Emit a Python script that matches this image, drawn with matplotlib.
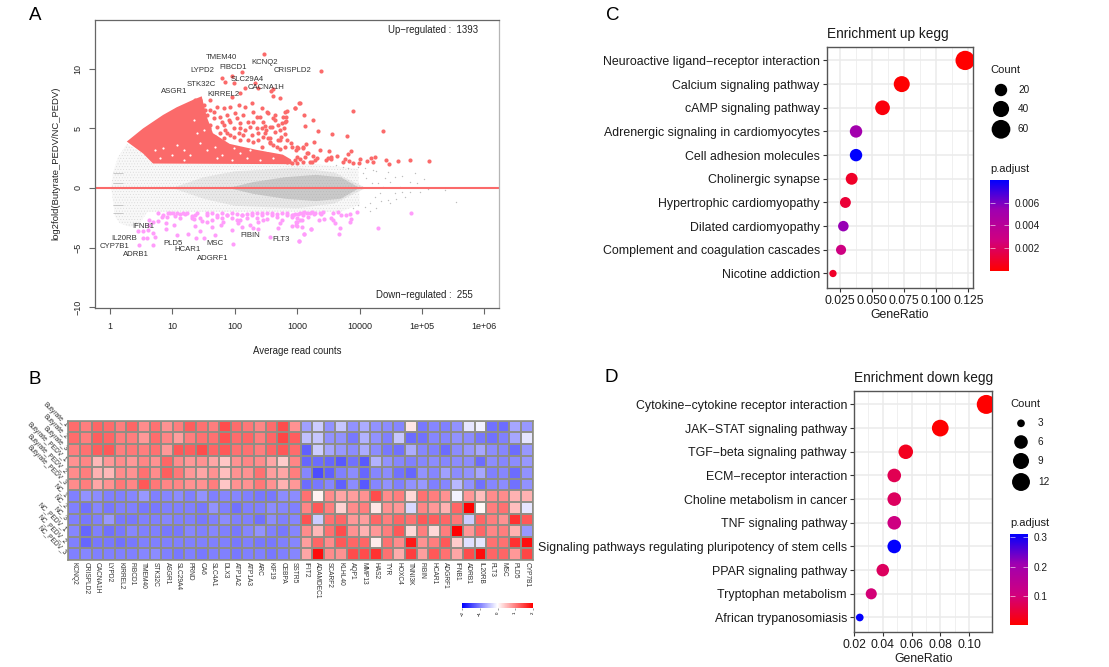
import numpy as np
import matplotlib
matplotlib.use("Agg")
import matplotlib.pyplot as plt
from matplotlib.cm import ScalarMappable
from matplotlib.colors import LinearSegmentedColormap, Normalize

plt.rcParams['font.family'] = ['Liberation Sans', 'DejaVu Sans']
plt.rcParams['hatch.linewidth'] = 0.3

W, H = 1109, 667

# Panel A: log10(average read counts) and log2 fold change
up_logx = [2.468, 2.11, 1.79, 1.84, 1.95, 1.98, 2.16, 2.32, 2.38, 2.62, 2.58, 2.62, 2.72, 3.39, 1.95, 2.08, 2.27,
           3.04, 2.96, 3.03, 2.96, 3.89, 2.83, 3.11, 3.25, 3.13, 3.33, 3.56, 3.80, 4.38, 2.53, 2.64, 2.64, 2.77,
           2.82, 2.82, 2.76, 2.79, 2.59, 2.48, 2.50, 2.74, 2.80, 2.56, 2.46, 2.70, 2.90, 3.27, 3.14, 2.56, 2.80,
           3.02, 3.10, 2.72, 3.37, 2.98, 3.51, 3.64, 3.86, 3.82, 3.77, 3.74, 3.83, 3.90, 3.99, 4.01, 4.12, 4.18,
           4.24, 4.21, 4.43, 4.48, 4.62, 4.81, 5.11, 3.50, 3.54, 3.47, 3.55, 2.99, 3.04, 2.96, 3.10, 3.00, 2.92,
           2.83, 3.21, 3.29, 3.32, 3.26, 3.17, 3.13, 3.23, 1.71, 1.82, 1.92, 2.06, 2.16, 1.60, 2.30, 2.43, 2.51,
           1.76, 1.87, 2.00, 2.14, 2.35, 1.66, 2.62, 2.80, 1.92, 2.08, 2.22, 2.46, 1.82, 1.98, 2.16, 2.35, 2.56,
           1.71, 2.06, 2.27, 2.48, 2.64, 1.92, 2.22, 2.38, 2.56, 2.72, 1.82, 1.60, 1.50, 1.55,
           1.68, 1.76, 1.87, 1.98, 2.08, 2.14, 2.30, 2.38, 2.43, 2.54, 2.62, 2.67, 2.83, 2.91, 2.99, 3.10, 3.15,
           1.60, 1.52, 1.44, 1.58, 1.79, 1.90, 1.66, 1.52, 1.42, 1.36, 1.44, 2.03, 2.30, 2.41, 2.70, 2.80, 2.24,
           2.08, 2.43, 2.72, 1.84]
up_lfc = [11.26, 9.77, 9.22, 8.93, 9.41, 8.80, 8.38, 8.80, 8.38, 8.29, 8.18, 7.73, 7.54, 9.80, 7.62, 7.96, 7.17,
          7.17, 6.70, 7.12, 6.70, 6.50, 6.47, 6.13, 5.71, 5.24, 4.76, 4.51, 4.34, 4.76, 6.33, 6.13, 5.71, 5.99,
          5.94, 5.66, 5.43, 5.02, 5.15, 5.21, 4.87, 4.31, 4.51, 4.18, 4.31, 4.03, 3.81, 3.89, 3.67, 3.76, 3.47,
          3.39, 3.33, 3.25, 3.19, 3.19, 3.11, 2.71, 3.08, 2.83, 2.46, 2.18, 2.27, 2.08, 2.13, 2.41, 2.27, 2.49,
          2.63, 2.16, 2.38, 2.04, 2.27, 2.38, 2.27, 2.50, 2.41, 2.35, 2.63, 2.58, 2.41, 2.35, 2.21, 2.13, 2.08,
          2.21, 2.21, 2.35, 2.50, 2.69, 2.92, 2.63, 2.16, 6.83, 6.70, 6.83, 6.97, 6.83, 6.55, 6.41, 6.70, 6.41,
          5.99, 6.13, 6.27, 6.13, 5.99, 5.85, 5.85, 6.41, 5.57, 5.43, 5.57, 5.57, 5.29, 5.02, 4.87, 5.02, 5.15,
          5.15, 4.60, 4.45, 4.60, 4.73, 4.45, 4.03, 4.03, 3.89, 4.03, 4.18, 7.40, 6.97, 6.13,
          4.31, 4.59, 4.59, 4.31, 4.03, 4.45, 3.89, 4.59, 3.47, 4.17, 3.61, 3.47, 4.03, 3.47, 3.47, 3.47, 2.91,
          5.29, 5.43, 5.71, 5.01, 5.57, 5.71, 6.41, 6.55, 6.97, 7.40, 7.40, 5.85, 5.57, 5.99, 5.29, 5.57, 5.15,
          5.01, 5.01, 4.87, 4.87]

# outline of the area where up-regulated points merge into one block, and the small gaps left inside it
up_block_logx = [0.27, 0.53, 0.85, 1.07, 1.33, 1.47, 1.55, 1.65, 1.92, 2.35, 2.77, 2.90, 2.93, 0.69, 0.53]
up_block_lfc = [3.9, 5.0, 6.13, 6.78, 7.4, 7.7, 6.0, 4.6, 3.7, 3.2, 2.8, 2.4, 2.0, 2.05, 2.9]
gap_logx = [0.72, 0.85, 1.07, 1.18, 1.28, 1.44, 1.55, 1.68, 1.79, 1.98, 2.08, 1.95, 2.24, 2.35, 2.19, 2.51, 2.62,
            2.40, 1.71, 0.99, 0.80, 1.18, 1.39, 1.50, 1.34]
gap_lfc = [3.19, 3.33, 3.61, 3.19, 2.77, 3.75, 3.19, 3.47, 2.77, 3.33, 2.91, 2.35, 3.19, 3.61, 2.49, 3.19, 2.49,
           2.35, 2.49, 2.77, 2.49, 2.35, 4.59, 4.87, 5.71]

down_logx = [0.454, 0.534, 0.614, 0.63, 0.63, 0.694, 0.775, 0.828, 0.908, 0.935, 1.015, 1.068, 1.175, 1.122, 1.229,
             1.309, 1.389, 1.346, 1.549, 1.469, 1.629, 1.709, 1.79, 1.87, 1.95, 2.03, 2.11, 2.19, 2.27, 2.35, 2.43,
             2.51, 2.59, 2.67, 2.75, 2.83, 2.94, 3.02, 3.10, 3.21, 3.29, 3.37, 0.694, 0.721, 0.534, 0.588, 0.47,
             0.694, 0.892, 0.892, 1.026, 1.079, 1.255, 1.373, 1.512, 1.683, 1.442, 1.362, 1.549, 1.629, 1.779, 1.816,
             1.95, 1.976, 2.057, 2.083, 2.11, 2.244, 2.377, 2.377, 2.297, 2.457, 2.564, 2.698, 2.724, 2.991, 3.072,
             2.981, 3.109, 3.216, 3.029, 2.91, 2.96, 3.04, 3.11, 3.16, 3.23, 3.27, 3.18, 3.09, 2.98, 3.05, 2.91,
             2.99, 3.08, 3.22, 3.11, 3.03, 3.35, 3.43, 3.42, 3.39, 3.54, 3.57, 3.61, 3.57, 3.66, 3.70, 3.78, 3.85,
             3.86, 3.85, 3.96, 3.69, 3.67, 4.30, 4.82, 0.775, 0.855, 0.96, 1.04, 1.12, 1.20, 1.31, 1.36, 1.44, 1.55,
             1.63, 1.71, 1.79, 1.87, 1.95, 2.03, 2.11, 2.19, 2.27, 2.35, 2.43, 2.51, 2.59, 2.67, 2.75, 2.83, 2.91,
             2.99]
down_lfc = [-3.61, -3.61, -3.53, -3.11, -2.69, -2.83, -2.77, -2.41, -2.41, -2.13, -2.07, -2.13, -2.07, -2.49, -2.13,
            -2.35, -2.13, -2.63, -2.07, -2.75, -2.07, -2.41, -2.13, -2.27, -2.13, -2.21, -2.27, -2.21, -2.13, -2.07,
            -2.07, -2.13, -2.13, -2.21, -2.13, -2.13, -2.27, -2.18, -2.07, -2.07, -2.07, -2.13, -3.81, -4.09, -4.23,
            -4.23, -4.82, -4.79, -3.47, -2.97, -3.11, -3.95, -3.87, -4.17, -4.17, -3.95, -3.59, -3.19, -2.83, -3.25,
            -3.11, -2.83, -3.53, -4.71, -2.97, -2.69, -3.25, -3.11, -2.83, -3.47, -3.39, -2.69, -4.09, -3.39, -2.97,
            -2.83, -2.69, -3.11, -3.87, -3.45, -4.45, -2.27, -2.18, -2.07, -2.02, -2.07, -2.02, -2.18, -2.41, -2.27,
            -2.89, -2.69, -3.17, -3.17, -3.25, -3.42, -3.89, -4.43, -2.69, -2.63, -1.99, -2.21, -2.55, -2.69, -2.97,
            -2.13, -2.02, -2.24, -2.24, -2.16, -2.63, -2.89, -1.99, -3.33, -3.89, -3.36, -2.13, -2.13, -2.27, -2.13,
            -2.33, -2.21, -2.21, -2.55, -2.27, -2.55, -2.27, -2.69, -2.27, -2.55, -2.27, -2.55, -2.69, -2.27, -2.55,
            -2.27, -2.55, -2.27, -2.60, -2.27, -2.41, -2.69, -2.27, -2.41, -2.55]

# outlines of the grey cloud: sparse, medium and dense zones
cloud_logx = [0.02, 0.05, 0.13, 0.27, 0.53, 0.69, 3.3, 3.98, 4.0, 3.69, 0.6, 0.45, 0.32, 0.16, 0.08]
cloud_lfc = [0.0, 1.3, 2.6, 3.7, 2.9, 2.0, 2.0, 1.6, -1.4, -2.0, -2.0, -3.2, -3.25, -2.97, -2.41]
mid_logx = [1.0, 1.5, 2.0, 3.0, 3.6, 4.1, 3.6, 3.0, 2.0, 1.5]
mid_lfc = [0.0, 0.9, 1.4, 1.7, 1.3, 0.0, -1.3, -1.7, -1.5, -0.9]
core_logx = [1.9, 2.3, 2.8, 3.3, 3.7, 4.0, 3.7, 3.3, 2.8, 2.3]
core_lfc = [0.0, 0.5, 0.9, 1.1, 0.9, 0.0, -0.9, -1.1, -0.9, -0.5]
tail_logx = [4.09, 4.27, 4.46, 4.57, 4.68, 4.89, 5.03, 4.81, 4.92, 4.65, 5.37, 5.10, 4.97, 4.81, 4.57, 4.68, 4.73,
             4.46, 4.59, 4.35, 5.54, 4.49, 4.17, 4.09, 4.27, 4.38, 4.49, 4.30, 4.22, 4.11, 4.40, 4.33, 4.25, 4.17,
             3.98, 3.90, 3.98, 3.82, 3.74, 3.63, 4.06, 4.20]
tail_lfc = [1.65, 1.46, 1.37, 0.90, 1.01, 1.23, 0.76, 0.53, 0.39, 0.11, -0.17, -0.11, -0.31, -0.31, -0.45, -0.31, -0.78,
            -1.01, -0.95, -1.09, -1.18, -1.29, -1.90, -1.57, -1.71, 0.11, 0.53, 0.39, 1.51, 0.81, 0.81, -0.45, -0.73,
            -1.29, -1.43, -1.71, 1.79, 1.65, 1.79, 1.93, 1.23, 0.39]
streak_lfc = [1.26, 0.4, -1.43, -2.1]

gene_names = ["TMEM40", "KCNQ2", "FIBCD1", "LYPD2", "CRISPLD2", "SLC29A4", "STK32C", "CACNA1H", "ASGR1", "KIRREL2",
              "IFNB1", "IL20RB", "CYP7B1", "ADRB1", "PLD5", "HCAR1", "MSC", "ADGRF1", "FIBIN", "FLT3"]
gene_x = [61.7, 297, 92.5, 30.1, 834, 161, 29.5, 313, 10.5, 65.4,
          3.42, 1.66, 1.2, 2.58, 10.3, 17.3, 47.6, 43.6, 177, 544]
gene_y = [10.95, 10.56, 10.08, 9.88, 9.88, 9.1, 8.66, 8.4, 8.13, 7.82,
          -3.25, -4.23, -4.9, -5.57, -4.7, -5.2, -4.65, -5.9, -4.0, -4.35]

# Panel B
heat_rows = ["Butyrate_1", "Butyrate_2", "Butyrate_3", "Butyrate_PEDV_1", "Butyrate_PEDV_2", "Butyrate_PEDV_3",
             "NC_1", "NC_2", "NC_3", "NC_PEDV_1", "NC_PEDV_2", "NC_PEDV_3"]
heat_cols = ["KCNQ2", "CRISPLD2", "CACNA1H", "LYPD2", "KIRREL2", "FIBCD1", "TMEM40", "STK32C", "ASGR1", "SLC29A4",
             "PRND", "CA6", "SLC4A1", "DLX3", "ATP1A2", "ATP1A3", "ARC", "KIF19", "CEBPA", "SSTR5",
             "IFIT2", "ADAMDEC1", "SCARF2", "KLHL40", "AQP1", "MMP13", "HAS2", "TYR", "HOXC4", "TNNI3K",
             "FIBIN", "HCAR1", "ADGRF1", "IFNB1", "ADRB1", "IL20RB", "FLT3", "MSC", "PLD5", "CYP7B1"]
heat_values = [
    [1.15, 1.0, 1.2, 1.15, 1.0, 1.2, .9, 1.1, .85, 1.0, 1.25, 1.1, 1.0, 1.4, 1.15, 1.05, .95, 1.15, 1.4, .85,
     -.75, -.4, -.85, -.45, -.85, -.65, -.85, -.9, -.95, .2, -1.05, -.95, -1, -.85, -.2, -.1, -1.1, -1.15, -.7, -.8],
    [1.15, 1.0, 1.25, 1.2, 1.0, 1.0, .8, 1.15, .95, .75, 1.0, 1.1, 1.1, 1.35, 1.15, 1.2, 1.0, 1.2, 1.45, 1.25,
     -.5, -.45, -.85, -.85, -1.05, -.6, -.85, -1.0, -.45, -1.15, -1.1, -.95, -.95, -.85, -.9, -1.05, -1.1, -1.0, -.7, -.2],
    [1.0, 1.1, 1.25, 1.3, 1.0, 1.05, 1.0, 1.1, .8, 1.3, 1.25, 1.4, 1.2, 1.3, 1.1, 1.1, 1.0, 1.2, 1.3, 1.15,
     -1.25, -.4, -.7, -.8, -.9, -.65, -.9, -1.05, -1.1, -.65, -.95, -1, -1.15, -.9, -.8, -.7, -.9, -.95, -1.15, -.8],
    [.85, .95, .55, .8, .9, .8, .95, .85, 1.2, .9, .8, .85, .7, .45, .85, .95, .9, .7, .4, .95,
     -1.2, -1.15, -1.2, -1.3, -1.1, -1.3, -.6, -.85, -.95, -1, -.95, -.9, -.95, -.9, -.9, -1.15, -.9, -.95, -.9, -.8],
    [.9, 1.0, .6, .55, .9, .85, 1.1, .9, 1.25, 1.05, .8, .7, .85, .5, .85, .85, 1.1, .75, .7, 1.0,
     -.95, -1.4, -1.25, -1.0, -.9, -1.2, -.95, -.9, -1.1, -1.2, -.85, -.95, -.75, -.9, -.85, -.7, -1, -.95, -1.15, -.85],
    [.9, 1.0, .7, .85, 1.05, .95, 1.3, 1.05, .95, .95, .85, .85, 1.0, .45, .85, .85, 1.05, .85, .6, .8,
     -1.15, -1.05, -.95, -1.25, -.9, -1.3, -.95, -.85, -1.0, -.85, -.8, -1.0, -.95, -.55, -.85, -1.1, -.95, -.9, -1.1, -.85],
    [-1.0, -.85, -.9, -1, -1, -.95, -.8, -1, -.95, -.9, -1, -.85, -1, -.95, -.95, -1, -1.05, -1.05, -.9, -.9,
     1.1, .1, .9, .7, .75, .85, 1.4, .9, 1.0, .3, 1.1, 1.0, .85, -.1, .8, .5, .9, .9, .6, .6],
    [-1.0, -1.1, -.95, -1.05, -1, -1, -1.05, -1.05, -1, -1, -1, -1.05, -.85, -1, -1.1, -1, -1, -.9, -.95, -1,
     .95, 1.3, 1.0, .35, .9, 1, .2, .85, .8, -.3, .95, .8, .6, 1.2, 2, .05, 1.0, 1.1, .5, -.2],
    [-1, -1.05, -1, -.8, -1.05, -1.05, -1, -1, -.95, -1, -1, -1.05, -1, -.9, -1, -1, -1.1, -.9, -1, -.95,
     1.35, -.4, 1.1, 1.2, .8, .75, 1.2, 1.0, 1.2, 1.1, 1.3, 1.25, 1.2, 1.05, -.4, 1.2, 1.0, .85, 1.6, 1.3],
    [-.95, -1.2, -1.0, -1.1, -1.05, -.95, -1, -1, -1.05, -1.05, -.95, -1, -.95, -1, -1.05, -.95, -.85, -1, -1.05, -.95,
     .9, .55, 1.1, 1.4, .85, .6, .8, 1.0, 1.3, .3, 1.0, .3, 1.0, 2, .8, 1.2, .95, 1.0, .6, -.8],
    [-1, -1.2, -1.05, -1.05, -1.1, -1.05, -1, -1, -1, -1, -1, -1, -1, -1, -1.05, -1, -1.05, -1.05, -1, -.95,
     .75, 1.2, .9, 1.3, 1.2, 1.2, .15, 1.1, .9, 1.8, .85, 1.0, 1.3, .4, -.25, -.2, 1.1, 1.1, 1.6, 1.9],
    [-1, -.95, -1, -1, -1, -1, -.95, -.9, -1, -1.05, -1, -1.05, -1, -1, -1.05, -1, -1, -1.05, -1, -.95,
     .7, 1.9, .9, .85, 1.4, 1.4, 1.6, 1.1, .65, 1.5, .75, 1.3, 1.1, .7, 1.4, 1.9, 1.2, 1.2, .8, 1.45],
]

# Panel C
up_terms = ["Neuroactive ligand\u2212receptor interaction", "Calcium signaling pathway", "cAMP signaling pathway",
            "Adrenergic signaling in cardiomyocytes", "Cell adhesion molecules", "Cholinergic synapse",
            "Hypertrophic cardiomyopathy", "Dilated cardiomyopathy", "Complement and coagulation cascades",
            "Nicotine addiction"]
up_ratio = [0.1225, 0.073, 0.058, 0.0373, 0.0373, 0.0339, 0.029, 0.0274, 0.0256, 0.0193]
up_count = [65, 39, 31, 20, 20, 18, 15, 14, 13, 10]
up_padj = [0.00005, 0.0001, 0.0003, 0.0052, 0.008, 0.0009, 0.0012, 0.0055, 0.0028, 0.0009]

# Panel D
down_terms = ["Cytokine\u2212cytokine receptor interaction", "JAK\u2212STAT signaling pathway",
              "TGF\u2212beta signaling pathway", "ECM\u2212receptor interaction", "Choline metabolism in cancer",
              "TNF signaling pathway", "Signaling pathways regulating pluripotency of stem cells",
              "PPAR signaling pathway", "Tryptophan metabolism", "African trypanosomiasis"]
down_ratio = [0.112, 0.08, 0.056, 0.048, 0.048, 0.048, 0.048, 0.04, 0.032, 0.024]
down_count = [14, 10, 7, 6, 6, 6, 6, 5, 4, 3]
down_padj = [0.004, 0.005, 0.03, 0.07, 0.08, 0.11, 0.31, 0.08, 0.1, 0.31]

count_rg = LinearSegmentedColormap.from_list("rb", ["#ff0000", "#d0007f", "#a000b0", "#0000ff"])
heat_cmap = LinearSegmentedColormap.from_list("bwr2", ["#0000ff", "#ffffff", "#ff0000"])
RED, PINK = "#fb6a6a", "#ff9dfb"


def px_axes(fig, left, top, right, bottom, **kw):
    return fig.add_axes([left / W, 1 - bottom / H, (right - left) / W, (bottom - top) / H], **kw)


def dot_area(count, low, high, d_min, d_max):
    # same size rule as ggplot scale_size, answer in points^2
    t = (np.asarray(count, dtype=float) - low) / (high - low)
    return ((d_min + np.sqrt(t) * (d_max - d_min)) * 0.72) ** 2


def ma_panel(fig):
    ax = px_axes(fig, 95, 19.5, 499, 308)
    grey_ink = "#666666"
    ax.fill(10 ** np.array(cloud_logx), cloud_lfc, facecolor="#f8f8f8", edgecolor="#d6d6d6", hatch="......", lw=0)
    ax.fill(10 ** np.array(mid_logx), mid_lfc, facecolor="#e8e8e8", edgecolor="#cccccc", hatch="......", lw=0)
    ax.fill(10 ** np.array(core_logx), core_lfc, facecolor="#c9c9c9", edgecolor="#b8b8b8", hatch="......", lw=0)
    ax.scatter(10 ** np.array(tail_logx), tail_lfc, s=1.0, color="#bdbdbd", lw=0)
    ax.hlines(streak_lfc, 1.13, 1.6, color="#c0c0c0", lw=0.6)
    ax.fill(10 ** np.array(up_block_logx), up_block_lfc, color=RED, lw=0)
    ax.scatter(10 ** np.array(gap_logx), gap_lfc, s=2.5, color="white", lw=0)
    ax.scatter(10 ** np.array(up_logx), up_lfc, s=9, color=RED, lw=0)
    ax.scatter(10 ** np.array(down_logx), down_lfc, s=9, color=PINK, lw=0)
    ax.axhline(0, color=RED, lw=1.5)
    ax.set_xscale("log")
    ax.set_xlim(10 ** -0.24, 10 ** 6.235)
    ax.set_ylim(-10.08, 14.15)
    ax.set_xticks([1, 10, 100, 1000, 10000, 1e5, 1e6])
    ax.set_xticklabels(["1", "10", "100", "1000", "10000", "1e+05", "1e+06"])
    ax.minorticks_off()
    ax.set_yticks([-10, -5, 0, 5, 10])
    ax.tick_params(colors="#222222", labelsize=6.5, length=4.3, width=0.8, color=grey_ink, pad=4.5)
    ax.tick_params(axis="x", pad=6)
    plt.setp(ax.get_yticklabels(), rotation=90, va="center")
    for name, spine in ax.spines.items():
        spine.set_color("#b5b5b5" if name == "right" else grey_ink)
        spine.set_linewidth(0.9)
    ax.set_xlabel("Average read counts", fontsize=6.9, color="#222222", labelpad=10.5)
    ax.set_ylabel("log2fold(Butyrate_PEDV/NC_PEDV)", fontsize=6.8, color="#222222", labelpad=9.5)
    for name, x, y in zip(gene_names, gene_x, gene_y):
        ax.text(x, y, name, fontsize=5.6, color="#333333", ha="center", va="center")
    ax.text(1.5e5, 13.3, "Up\u2212regulated :  1393", fontsize=6.9, color="#222222", ha="center", va="center")
    ax.text(1.1e5, -9.0, "Down\u2212regulated :  255", fontsize=6.9, color="#222222", ha="center", va="center")


def heat_panel(fig):
    ax = px_axes(fig, 68.3, 420.7, 532.7, 560)
    values = np.array(heat_values)
    ax.imshow(values, cmap=heat_cmap, vmin=-2, vmax=2, aspect="auto", interpolation="nearest",
              extent=(0, len(heat_cols), len(heat_rows), 0))
    ax.vlines(np.arange(len(heat_cols) + 1), 0, len(heat_rows), color="#8f8f86", lw=1.4)
    ax.hlines(np.arange(len(heat_rows) + 1), 0, len(heat_cols), color="#8f8f86", lw=1.4)
    ax.set_xticks(np.arange(len(heat_cols)) + 0.5)
    ax.set_xticklabels(heat_cols, rotation=-90, ha="center", va="top", fontsize=4.8, color="#333333")
    ax.set_yticks(np.arange(len(heat_rows)) + 0.5)
    ax.set_yticklabels(heat_rows, rotation=-45, ha="right", va="center", rotation_mode="anchor",
                       fontsize=4.8, color="#333333")
    ax.tick_params(length=0, pad=1.5)
    for spine in ax.spines.values():
        spine.set_color("#8f8f86")
        spine.set_linewidth(1.2)

    cax = px_axes(fig, 462.3, 603, 532.7, 608)
    bar = fig.colorbar(ScalarMappable(Normalize(-2, 2), heat_cmap), cax=cax, orientation="horizontal")
    bar.outline.set_visible(False)
    bar.set_ticks([-2, -1, 0, 1, 2])
    cax.tick_params(length=1.5, width=0.4, labelsize=3.2, pad=1, color="#555555")
    plt.setp(cax.get_xticklabels(), rotation=90, va="top")


def dot_panel(fig, box, terms, ratio, count, padj, xlim, xticks, xtick_fmt, padj_range, title, size_rule):
    ax = px_axes(fig, *box)
    ypos = np.arange(len(terms))[::-1]
    norm = Normalize(*padj_range)
    ax.set_axisbelow(True)
    ax.grid(True, which="major", color="#ebebeb", lw=1.1)
    ax.scatter(ratio, ypos, s=dot_area(count, *size_rule), c=padj, cmap=count_rg, norm=norm, lw=0, zorder=3)
    ax.set_xlim(*xlim)
    ax.set_ylim(-0.6, len(terms) - 0.42)
    ax.set_xticks(xticks)
    ax.set_xticks((np.array(xticks[:-1]) + np.array(xticks[1:])) / 2, minor=True)
    ax.grid(True, which="minor", axis="x", color="#f0f0f0", lw=0.7)
    ax.tick_params(which="minor", length=0)
    ax.set_xticklabels([xtick_fmt % t for t in xticks])
    ax.set_yticks(ypos)
    ax.set_yticklabels(terms)
    ax.tick_params(which="major", labelsize=8.95, length=3, width=0.8, color="#333333", labelcolor="#1a1a1a", pad=2)
    ax.tick_params(axis="x", which="major", labelsize=8.8)
    for spine in ax.spines.values():
        spine.set_color("#555555")
        spine.set_linewidth(1.0)
    ax.set_xlabel("GeneRatio", fontsize=8.8, color="#1a1a1a", labelpad=1.5)
    ax.set_title(title, fontsize=9.8, color="#1a1a1a", loc="left", pad=6)
    return ax


def dot_legend(fig, overlay, x_left, legend_counts, key_y, count_y, size_rule, cbar_box, padj_range, padj_ticks, padj_title_y):
    overlay.text(x_left, count_y, "Count", fontsize=8, va="center", color="#1a1a1a")
    overlay.scatter([x_left + 11] * len(legend_counts), key_y, s=dot_area(legend_counts, *size_rule), color="black", lw=0)
    for c, y in zip(legend_counts, key_y):
        overlay.text(x_left + 28, y, str(c), fontsize=7.2, va="center", color="#1a1a1a")
    overlay.text(x_left, padj_title_y, "p.adjust", fontsize=8, va="center", color="#1a1a1a")
    cax = px_axes(fig, *cbar_box)
    bar = fig.colorbar(ScalarMappable(Normalize(*padj_range), count_rg), cax=cax)
    bar.outline.set_visible(False)
    bar.set_ticks(padj_ticks)
    cax.set_yticklabels([("%.3f" % t) if t < 0.01 else ("%.1f" % t) for t in padj_ticks])
    cax.tick_params(length=3.5, width=0.4, direction="in", color="white", labelsize=7.2, labelcolor="#1a1a1a",
                    left=True, right=True, pad=4)


def main():
    fig = plt.figure(figsize=(W / 100, H / 100), dpi=100)
    overlay = px_axes(fig, 0, 0, W, H, zorder=5)
    overlay.set_xlim(0, W)
    overlay.set_ylim(H, 0)
    overlay.axis("off")

    ma_panel(fig)
    heat_panel(fig)

    up_rule = (10, 65, 7.3, 19.3)
    dot_panel(fig, (826.7, 46.7, 972.7, 287.7), up_terms, up_ratio, up_count, up_padj,
              (0.0144, 0.1284), [0.025, 0.05, 0.075, 0.1, 0.125], "%.3f", (0.00004, 0.008),
              "Enrichment up kegg", up_rule)
    dot_legend(fig, overlay, 990, [20, 40, 60], [90, 109, 129.3], 70, up_rule, (990.3, 179.7, 1008.7, 270.7),
               (0.00004, 0.008), [0.002, 0.004, 0.006], 169)

    down_rule = (3, 14, 7.7, 19)
    dot_panel(fig, (854, 390.7, 992.3, 631.7), down_terms, down_ratio, down_count, down_padj,
              (0.02, 0.1162), [0.02, 0.04, 0.06, 0.08, 0.1], "%.2f", (0.0037, 0.312),
              "Enrichment down kegg", down_rule)
    dot_legend(fig, overlay, 1010, [3, 6, 9, 12], [423.3, 442, 461, 482], 403.7, down_rule, (1009.7, 533.7, 1028, 624.7),
               (0.0037, 0.312), [0.1, 0.2, 0.3], 522.7)

    for letter, x, y in [("A", 35, 15), ("B", 35, 380), ("C", 613, 15), ("D", 611, 378)]:
        overlay.text(x, y, letter, fontsize=13.5, ha="center", va="center", color="black")

    fig.savefig("out.png", dpi=100)


if __name__ == "__main__":
    main()
